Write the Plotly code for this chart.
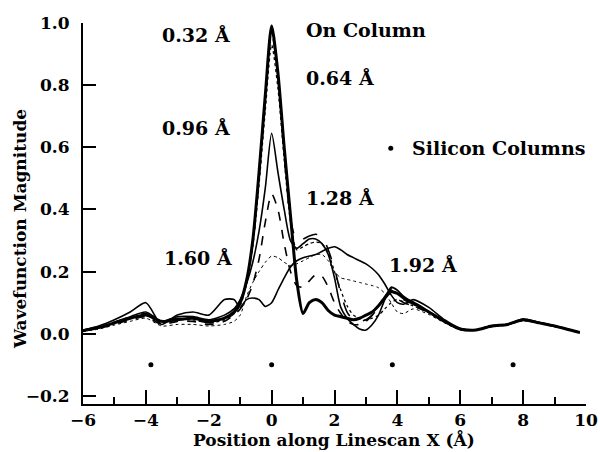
import plotly.graph_objects as go

# ---- data ----
X = [-6.0, -5.5, -5.0, -4.5, -4.0, -3.5, -3.0, -2.5, -2.0, -1.5,
     -1.2, -1.0, -0.8, -0.6, -0.4, -0.2, 0.0, 0.2, 0.4, 0.6,
     0.8, 1.0, 1.2, 1.4, 1.6, 1.8, 2.0, 2.2, 2.4, 2.6,
     2.8, 3.0, 3.2, 3.4, 3.6, 3.8, 4.0, 4.2, 4.5, 5.0,
     5.5, 6.0, 6.5, 7.0, 7.5, 8.0, 8.5, 9.0, 9.5, 9.8]

on_column = [0.010, 0.020, 0.035, 0.050, 0.060, 0.040, 0.045, 0.050, 0.040, 0.050,
             0.070, 0.100, 0.170, 0.300, 0.520, 0.770, 0.990, 0.840, 0.600, 0.380,
             0.170, 0.065, 0.100, 0.110, 0.100, 0.075, 0.060, 0.055, 0.050, 0.045,
             0.050, 0.060, 0.070, 0.090, 0.115, 0.135, 0.130, 0.115, 0.100, 0.070,
             0.040, 0.015, 0.012, 0.025, 0.030, 0.045, 0.035, 0.025, 0.012, 0.004]

d032 = [0.010, 0.022, 0.038, 0.055, 0.065, 0.045, 0.050, 0.045, 0.035, 0.045,
        0.065, 0.095, 0.165, 0.290, 0.500, 0.750, 0.970, 0.830, 0.580, 0.370,
        0.300, 0.305, 0.315, 0.320, 0.315, 0.270, 0.210, 0.130, 0.070, 0.045,
        0.040, 0.045, 0.060, 0.085, 0.120, 0.145, 0.130, 0.110, 0.095, 0.070,
        0.040, 0.015, 0.013, 0.024, 0.032, 0.044, 0.036, 0.024, 0.012, 0.004]

d064 = [0.010, 0.020, 0.033, 0.050, 0.060, 0.035, 0.045, 0.045, 0.035, 0.045,
        0.065, 0.090, 0.160, 0.280, 0.480, 0.720, 0.930, 0.790, 0.560, 0.360,
        0.270, 0.280, 0.290, 0.295, 0.290, 0.260, 0.200, 0.140, 0.090, 0.060,
        0.050, 0.045, 0.050, 0.060, 0.080, 0.100, 0.110, 0.100, 0.090, 0.068,
        0.038, 0.014, 0.012, 0.023, 0.030, 0.043, 0.035, 0.024, 0.012, 0.004]

d096 = [0.012, 0.020, 0.035, 0.055, 0.070, 0.040, 0.055, 0.055, 0.045, 0.060,
        0.080, 0.110, 0.160, 0.230, 0.330, 0.470, 0.645, 0.520, 0.400, 0.300,
        0.275, 0.290, 0.305, 0.305, 0.290, 0.255, 0.180, 0.085, 0.050, 0.030,
        0.015, 0.012, 0.030, 0.060, 0.110, 0.150, 0.140, 0.120, 0.100, 0.072,
        0.040, 0.016, 0.012, 0.025, 0.029, 0.046, 0.036, 0.025, 0.012, 0.004]

d128 = [0.010, 0.018, 0.030, 0.045, 0.055, 0.030, 0.040, 0.040, 0.030, 0.040,
        0.060, 0.080, 0.110, 0.160, 0.240, 0.360, 0.450, 0.400, 0.290, 0.200,
        0.155, 0.150, 0.170, 0.190, 0.185, 0.150, 0.100, 0.065, 0.040, 0.030,
        0.030, 0.040, 0.060, 0.090, 0.120, 0.140, 0.120, 0.100, 0.090, 0.068,
        0.038, 0.014, 0.012, 0.024, 0.030, 0.044, 0.035, 0.024, 0.012, 0.004]

d160 = [0.008, 0.015, 0.028, 0.040, 0.050, 0.025, 0.030, 0.030, 0.025, 0.030,
        0.040, 0.060, 0.120, 0.165, 0.200, 0.230, 0.250, 0.245, 0.230, 0.220,
        0.225, 0.235, 0.245, 0.255, 0.255, 0.235, 0.200, 0.180, 0.175, 0.170,
        0.165, 0.160, 0.155, 0.148, 0.130, 0.100, 0.070, 0.065, 0.080, 0.062,
        0.035, 0.012, 0.011, 0.022, 0.028, 0.042, 0.034, 0.023, 0.011, 0.003]

d192 = [0.012, 0.025, 0.045, 0.070, 0.100, 0.030, 0.060, 0.070, 0.060, 0.110,
        0.110, 0.085, 0.110, 0.115, 0.110, 0.088, 0.100, 0.140, 0.180, 0.215,
        0.235, 0.245, 0.250, 0.255, 0.265, 0.275, 0.280, 0.270, 0.255, 0.245,
        0.235, 0.225, 0.210, 0.190, 0.160, 0.125, 0.100, 0.095, 0.110, 0.085,
        0.045, 0.018, 0.013, 0.026, 0.030, 0.047, 0.037, 0.026, 0.013, 0.004]

silicon_x = [-3.84, 0.0, 3.84, 7.68]
silicon_y = [-0.1, -0.1, -0.1, -0.1]

labels = ["0.32 Å", "On Column", "0.64 Å", "0.96 Å", "1.28 Å", "1.60 Å", "1.92 Å"]
label_x = [-3.54, 1.02, 1.02, -3.54, 1.02, -3.50, 3.66]
label_y = [0.961, 0.977, 0.823, 0.662, 0.437, 0.244, 0.221]

y_ticks = [-0.2, 0.0, 0.2, 0.4, 0.6, 0.8, 1.0]
x_ticks = [-6, -4, -2, 0, 2, 4, 6, 8, 10]

FONT = "DejaVu Serif"

fig = go.Figure()

curves = [
    (on_column, "solid", 3.0),
    (d032, "longdash", 1.6),
    (d064, "dot", 1.3),
    (d096, "solid", 1.6),
    (d128, "dash", 1.6),
    (d160, "dot", 1.0),
    (d192, "solid", 1.6),
]
for ys, dash, w in curves:
    fig.add_trace(go.Scatter(x=X, y=ys, mode="lines",
                             line=dict(color="black", width=w, dash=dash,
                                       shape="spline", smoothing=0.7),
                             hoverinfo="skip", showlegend=False))

fig.add_trace(go.Scatter(x=silicon_x, y=silicon_y, mode="markers",
                         marker=dict(color="black", size=5),
                         showlegend=False, hoverinfo="skip"))
# legend-like dot for "Silicon Columns"
fig.add_trace(go.Scatter(x=[3.79], y=[0.597], mode="markers",
                         marker=dict(color="black", size=5),
                         showlegend=False, hoverinfo="skip"))

annotations = []
for t, ax_, ay_ in zip(labels, label_x, label_y):
    annotations.append(dict(x=ax_, y=ay_, xref="x", yref="y", text=t,
                            showarrow=False, xanchor="left", yanchor="middle",
                            font=dict(family=FONT, size=19, color="black", weight="bold")))
annotations.append(dict(x=4.39, y=0.597, xref="x", yref="y", text="Silicon Columns",
                        showarrow=False, xanchor="left", yanchor="middle",
                        font=dict(family=FONT, size=19, color="black", weight="bold")))

L, R, T, B = 83, 14, 23, 48
PW, PH = 600 - L - R, 452 - T - B
annotations.append(dict(x=(20 - L) / PW, y=(452 - B - 229) / PH, xref="paper", yref="paper",
                        text="Wavefunction Magnitude", textangle=-90, showarrow=False,
                        xanchor="center", yanchor="middle",
                        font=dict(family=FONT, size=17, color="black", weight="bold")))
annotations.append(dict(x=(334 - L) / PW, y=(452 - B - 439) / PH, xref="paper", yref="paper",
                        text="Position along Linescan X (Å)", showarrow=False,
                        xanchor="center", yanchor="middle",
                        font=dict(family=FONT, size=17, color="black", weight="bold")))

fig.update_layout(
    width=600, height=452,
    margin=dict(l=L, r=R, t=T, b=B),
    paper_bgcolor="white", plot_bgcolor="white",
    annotations=annotations,
    showlegend=False,
)
fig.update_xaxes(range=[-6, 10], tickvals=x_ticks, showgrid=False, zeroline=False,
                 automargin=False,
                 showline=True, linecolor="black", linewidth=2,
                 ticks="inside", ticklen=14, tickwidth=2, tickcolor="black",
                 minor=dict(dtick=1, ticks="inside", ticklen=7, tickwidth=2, tickcolor="black"),
                 tickfont=dict(family=FONT, size=17, color="black", weight="bold"))
fig.update_yaxes(range=[-0.226, 1.0], tickvals=y_ticks, tickformat=".1f",
                 showgrid=False, zeroline=False, automargin=False,
                 showline=True, linecolor="black", linewidth=2,
                 ticks="inside", ticklen=13, tickwidth=2, tickcolor="black",
                 ticklabelstandoff=8,
                 tickfont=dict(family=FONT, size=17, color="black", weight="bold"))

fig.write_html("out.html")
